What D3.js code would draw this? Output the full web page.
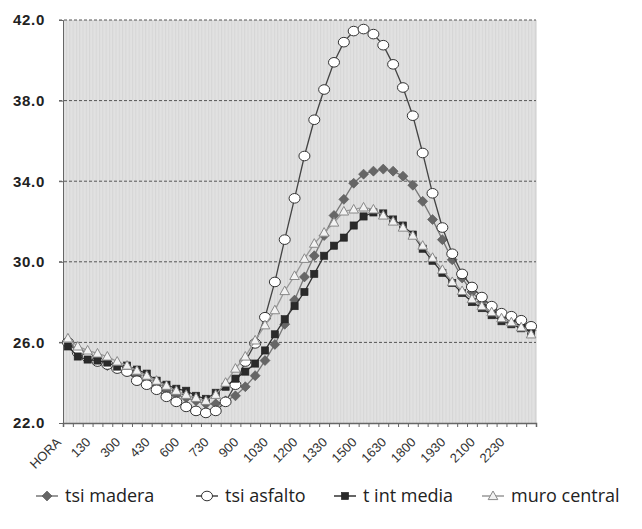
<!DOCTYPE html>
<html><head><meta charset="utf-8">
<script src="https://cdn.jsdelivr.net/npm/d3@7/dist/d3.min.js"></script>
<style>html,body{margin:0;padding:0;background:#fff;}svg{display:block;}</style>
</head><body>
<svg id="chart" width="642" height="529"></svg>
<script>
const categories = ["HORA","30","100","130","200","230","300","330","400","430","500","530","600","630","700","730","800","830","900","930","1000","1030","1100","1130","1200","1230","1300","1330","1400","1430","1500","1530","1600","1630","1700","1730","1800","1830","1900","1930","2000","2030","2100","2130","2200","2230","2300","2330"];
const tickLabels = ["HORA","130","300","430","600","730","900","1030","1200","1330","1500","1630","1800","1930","2100","2230"];
const yTicks = [22, 26, 30, 34, 38, 42];
const seriesNames = ["tsi madera","tsi asfalto","t int media","muro central"];
const madera = [26.1,25.6,25.3,25.05,24.85,24.7,24.55,24.35,24.1,23.85,23.6,23.4,23.25,23.1,22.95,22.95,23.1,23.35,23.8,24.35,25.1,25.9,26.9,28.1,29.25,30.3,31.3,32.3,33.1,33.9,34.35,34.5,34.6,34.5,34.25,33.8,33.0,32.1,31.1,30.1,29.2,28.5,28.0,27.6,27.3,27.1,26.9,26.6];
const asfalto = [26.0,25.5,25.25,25.05,24.9,24.7,24.55,24.1,23.9,23.65,23.3,23.05,22.8,22.6,22.5,22.6,23.05,23.9,25.05,25.95,27.25,29.0,31.1,33.15,35.25,37.05,38.55,39.9,40.9,41.45,41.55,41.3,40.75,39.8,38.65,37.25,35.4,33.4,31.7,30.4,29.4,28.75,28.25,27.8,27.45,27.3,27.1,26.8];
const tint = [25.8,25.3,25.15,25.1,25.0,24.8,24.85,24.65,24.45,24.1,23.9,23.7,23.6,23.35,23.2,23.5,23.8,24.2,24.55,24.95,25.6,26.4,27.15,27.8,28.5,29.4,30.3,30.8,31.2,31.8,32.25,32.45,32.4,32.1,31.8,31.35,30.65,30.05,29.45,28.95,28.45,28.0,27.7,27.35,27.05,26.9,26.7,26.45];
const muro = [26.2,25.8,25.6,25.45,25.3,25.05,24.85,24.6,24.35,24.1,23.85,23.6,23.4,23.25,23.1,23.4,24.0,24.7,25.3,26.1,26.85,27.6,28.55,29.3,30.15,30.9,31.45,31.95,32.5,32.6,32.7,32.6,32.3,32.0,31.7,31.3,30.8,30.2,29.6,29.0,28.55,28.15,27.8,27.5,27.2,27.0,26.75,26.4];

const L = 63, R = 536, T = 20, B = 423;
const svg = d3.select("#chart");
const x = d3.scalePoint().domain(categories).range([L, R]).padding(0.5);
const xEdge = d3.scaleLinear().domain([0, categories.length]).range([L, R]);
const y = d3.scaleLinear().domain([22, 42]).range([B, T]);

// background pattern
const defs = svg.append("defs");
const pat = defs.append("pattern").attr("id","stripes").attr("patternUnits","userSpaceOnUse")
  .attr("width",3.3).attr("height",10);
pat.append("rect").attr("width",3.3).attr("height",10).attr("fill","#e1e1e1");
pat.append("rect").attr("x",0).attr("width",1).attr("height",10).attr("fill","#d6d6d6");
svg.append("rect").attr("x",L).attr("y",T).attr("width",R-L).attr("height",B-T).attr("fill","url(#stripes)");
svg.append("line").attr("x1",R).attr("x2",R).attr("y1",T).attr("y2",B).attr("stroke","#ccc");

// gridlines
svg.append("g").selectAll("line").data(yTicks.filter(d=>d>22)).join("line")
  .attr("x1",L-4).attr("x2",R).attr("y1",d=>y(d)).attr("y2",d=>y(d))
  .attr("stroke","#555").attr("stroke-width",1).attr("stroke-dasharray","3,2");

// y axis lines
const yAxis = d3.axisLeft(y).tickValues(yTicks).tickFormat("").tickSize(4);
const gy = svg.append("g").attr("transform",`translate(${L},0)`).call(yAxis);
gy.select(".domain").attr("stroke","#666");
gy.selectAll(".tick line").attr("stroke","#666");
// y labels
svg.append("g").selectAll("text").data(yTicks).join("text")
  .attr("x", L-18).attr("y", d=>y(d)).attr("dy","0.36em").attr("text-anchor","end")
  .attr("font-family","Arial, 'Liberation Sans', sans-serif").attr("font-size","15")
  .attr("font-weight","700").attr("letter-spacing","0.7").attr("fill","#222")
  .attr("style","font-weight:700")
  .text(d3.format(".1f"));

// x axis ticks at boundaries
const xTickAxis = d3.axisBottom(xEdge).tickValues(d3.range(0, categories.length+1)).tickSize(4).tickFormat("");
const gx = svg.append("g").attr("transform",`translate(0,${B})`).call(xTickAxis);
gx.select(".domain").attr("stroke","#666").attr("stroke-width",1.5);
gx.selectAll(".tick line").attr("stroke","#666");

// x labels (rotated, wrapped in groups)
svg.append("g").selectAll("g").data(tickLabels).join("g")
  .attr("transform",d=>`translate(${x(d)-6},${B+20}) rotate(-45)`)
  .append("text")
  .attr("text-anchor","end")
  .attr("font-family","Arial, 'Liberation Sans', sans-serif").attr("font-size","13")
  .attr("fill","#333").text(d=>d);

// series
const styles = [
  {data: madera, line:"#777", marker:"diamond", fill:"#666", stroke:"#555"},
  {data: asfalto, line:"#444", marker:"circle", fill:"#fff", stroke:"#333"},
  {data: tint, line:"#333", marker:"square", fill:"#2a2a2a", stroke:"#222"},
  {data: muro, line:"#999", marker:"triangle", fill:"#f2f2f2", stroke:"#888"}
];
function drawMarker(g, type, fill, stroke){
  if(type==="diamond") g.append("path").attr("d","M0,-5L5,0L0,5L-5,0Z").attr("fill",fill).attr("stroke",stroke).attr("stroke-width",0.6);
  else if(type==="circle") g.append("ellipse").attr("rx",5.5).attr("ry",4.8).attr("fill",fill).attr("stroke",stroke).attr("stroke-width",1);
  else if(type==="square") g.append("rect").attr("x",-3.6).attr("y",-3.6).attr("width",7.2).attr("height",7.2).attr("fill",fill).attr("stroke",stroke).attr("stroke-width",0.6);
  else g.append("path").attr("d","M0,-5L4.8,3.6L-4.8,3.6Z").attr("fill",fill).attr("stroke",stroke).attr("stroke-width",1);
}
const line = d3.line().x((d,i)=>x(categories[i])).y(d=>y(d));
styles.forEach(s=>{
  svg.append("path").datum(s.data).attr("d",line).attr("fill","none").attr("stroke",s.line).attr("stroke-width",1.3);
  svg.append("g").selectAll("g").data(s.data).join("g")
    .attr("transform",(d,i)=>`translate(${x(categories[i])},${y(d)})`)
    .each(function(){ drawMarker(d3.select(this), s.marker, s.fill, s.stroke); });
});

// legend
const legX = [36, 196, 334, 482];
const lg = svg.append("g").attr("transform","translate(0,496)");
seriesNames.forEach((n,i)=>{
  const s = styles[i];
  const g = lg.append("g").attr("transform",`translate(${legX[i]},0)`);
  g.append("line").attr("x1",0).attr("x2",22).attr("stroke",s.line).attr("stroke-width",1.5);
  const m = g.append("g").attr("transform","translate(11,0)");
  drawMarker(m, s.marker, s.fill, s.stroke);
  g.append("text").attr("x",29).attr("y",6).attr("font-family","'Open Sans', 'Noto Sans', sans-serif")
    .attr("font-size","18").attr("fill","#222").text(n);
});
</script>
</body></html>
